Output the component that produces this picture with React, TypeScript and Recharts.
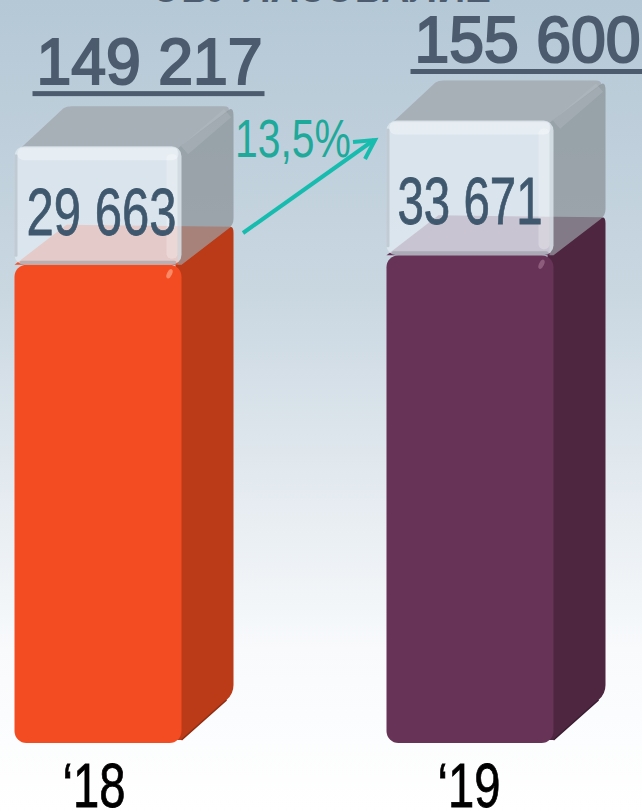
import { BarChart, Bar, XAxis, YAxis, LabelList } from 'recharts';

const years = ['‘18', '‘19'];
const baseValues = [119554, 121929];
const topValues = [29663, 33671];
const totalLabels = ['149 217', '155 600'];
const topLabels = ['29 663', '33 671'];

const chartData = years.map((year, i) => ({
  year,
  base: baseValues[i],
  top: topValues[i],
}));

const FONT = '"Liberation Sans", Arial, sans-serif';
const DEPTH_X = 52;
const DEPTH_Y = 40;
const baseColors = [
  { front: '#f44c22', side: '#bb3a17', lid: '#f2522a', spot: '#f98a68', edge: '#8f2c10' },
  { front: '#673356', side: '#4e2640', lid: '#6a3357', spot: '#8d5c7d', edge: '#3a1c30' },
];

function BaseBox(props: any) {
  const { x, y, width: w, height: h, index } = props;
  const c = baseColors[index];
  const r = x + w;
  const b = y + h;
  const bx = r + DEPTH_X;
  const by = y - DEPTH_Y;
  const side = `M${r - 6},${y} L${bx - 5},${by + 3} Q${bx},${by} ${bx},${by + 8}
    L${bx},${b - DEPTH_Y - 18} Q${bx},${b - DEPTH_Y - 9} ${bx - 7},${b - DEPTH_Y - 3}
    L${r},${b - 3} L${r - 6},${b - 3} Z`;
  return (
    <g>
      <path d={side} fill={c.side} />
      <path d={`M${bx - 7},${b - DEPTH_Y - 3} L${r},${b - 3}`} fill="none" stroke={c.edge} strokeWidth={1.5} />
      <polygon
        points={`${x},${y} ${r},${y} ${bx - 3},${by + 2} ${x + DEPTH_X},${by}`}
        fill={c.lid}
      />
      <rect x={x} y={y} width={w} height={h} rx={12} fill={c.front} />
      <ellipse cx={r - 12} cy={y + 9} rx={2.5} ry={5} fill={c.spot} transform={`rotate(25 ${r - 12} ${y + 9})`} />
    </g>
  );
}

function GlassBox(props: any) {
  const { x, y, width: w, height: h } = props;
  const r = x + w;
  const b = y + h;
  const bx = r + DEPTH_X;
  const by = y - DEPTH_Y;
  const lid = `M${x + 6},${y + 2} L${x + DEPTH_X - 3},${by + 2} Q${x + DEPTH_X},${by} ${x + DEPTH_X + 5},${by}
    L${bx - 10},${by} Q${bx - 3},${by} ${bx - 5},${by + 5} L${r - 4},${y + 2} Z`;
  const side = `M${r - 4},${y + 2} L${bx - 5},${by + 4} Q${bx},${by} ${bx},${by + 10}
    L${bx},${b - DEPTH_Y - 6} Q${bx},${b - DEPTH_Y} ${bx - 5},${b - DEPTH_Y + 4}
    L${r},${b} L${r - 4},${b} Z`;
  return (
    <g>
      <path d={lid} fill="rgb(165,173,180)" opacity={0.92} />
      <path d={side} fill="rgb(139,147,151)" opacity={0.74} />
      <line
        x1={r + 3}
        y1={y + 4}
        x2={bx - 6}
        y2={by + 7}
        stroke="#bcc5ca"
        strokeWidth={11}
        opacity={0.28}
      />
      <rect x={x} y={y} width={w} height={h} rx={10} fill="rgba(224,232,240,0.8)" />
      <rect x={x} y={y + 8} width={3} height={h - 16} rx={1.5} fill="rgba(125,135,145,0.28)" />
      <rect x={x + 3} y={y + 1} width={w - 6} height={13} rx={6} fill="rgba(255,255,255,0.36)" />
      <rect x={r - 15} y={y + 8} width={11} height={h - 14} rx={5} fill="rgba(255,255,255,0.26)" />
      <rect x={x + 5} y={b - 4} width={w - 10} height={4} rx={2} fill="rgba(125,135,145,0.4)" />
    </g>
  );
}

function renderBoxLabels(props: any) {
  const { x, y, index } = props;
  const totalX = [x + 22, x + 28][index];
  const totalBase = [y - 62, y - 58.6][index];
  const valueX = [x + 12, x + 11][index];
  const valueBase = [y + 89, y + 103][index];
  const lineX = [x + 18, x + 24][index];
  return (
    <g>
      <text
        x={totalX}
        y={totalBase}
        fontFamily={FONT}
        fontSize={65}
        fill="#4c5c6e"
        stroke="#4c5c6e"
        strokeWidth={2.2}
        textLength={226}
        lengthAdjust="spacingAndGlyphs"
      >
        {totalLabels[index]}
      </text>
      <rect x={lineX} y={totalBase + 7} width={232} height={5} fill="#4c5c6e" />
      <text
        x={valueX}
        y={valueBase}
        fontFamily={FONT}
        fontSize={67}
        fill="#3f586e"
        stroke="#3f586e"
        strokeWidth={0.8}
        textLength={[150, 145][index]}
        lengthAdjust="spacingAndGlyphs"
      >
        {topLabels[index]}
      </text>
    </g>
  );
}

function YearTick(props: any) {
  const { x, payload, index } = props;
  const left = [x - 35, x - 32][index];
  return (
    <text
      x={left}
      y={807}
      fontFamily={FONT}
      fontSize={63}
      fill="#000"
      stroke="#000"
      strokeWidth={0.8}
      textLength={63}
      lengthAdjust="spacingAndGlyphs"
    >
      {payload.value}
    </text>
  );
}

export default function App() {
  return (
    <div
      style={{
        position: 'absolute',
        left: 0,
        top: 0,
        width: 642,
        height: 811,
        overflow: 'hidden',
        background: 'linear-gradient(180deg, #b5c8d6 0%, #c9d7e1 36%, #e6ecf1 62%, #f8fafc 80%, #ffffff 100%)',
      }}
    >
      <BarChart
        width={642}
        height={811}
        data={chartData}
        margin={{ top: 103, right: -13.5, bottom: 0, left: -88.5 }}
        barSize={167}
      >
        <YAxis hide domain={[0, 160000]} />
        <XAxis dataKey="year" axisLine={false} tickLine={false} height={68} tick={YearTick} interval={0} />
        <Bar dataKey="base" stackId="a" shape={BaseBox} isAnimationActive={false} />
        <Bar dataKey="top" stackId="a" shape={GlassBox} isAnimationActive={false}>
          <LabelList dataKey="top" content={renderBoxLabels} />
        </Bar>
        <text
          x={321}
          y={1.5}
          textAnchor="middle"
          fontFamily={FONT}
          fontSize={46}
          fontWeight={700}
          fill="#4c5c6e"
          textLength={340}
          lengthAdjust="spacingAndGlyphs"
        >
          ОБУ ЛАСОБАЛИЕ
        </text>
        <text
          x={235}
          y={157}
          fontFamily={FONT}
          fontSize={53}
          fill="#1ea99a"
          textLength={116}
          lengthAdjust="spacingAndGlyphs"
        >
          13,5%
        </text>
        <g stroke="#17bcae" strokeWidth={4} fill="none">
          <line x1={243} y1={233} x2={374} y2={140} />
          <polyline points="353,142 375,140 365,159" />
        </g>
      </BarChart>
    </div>
  );
}
